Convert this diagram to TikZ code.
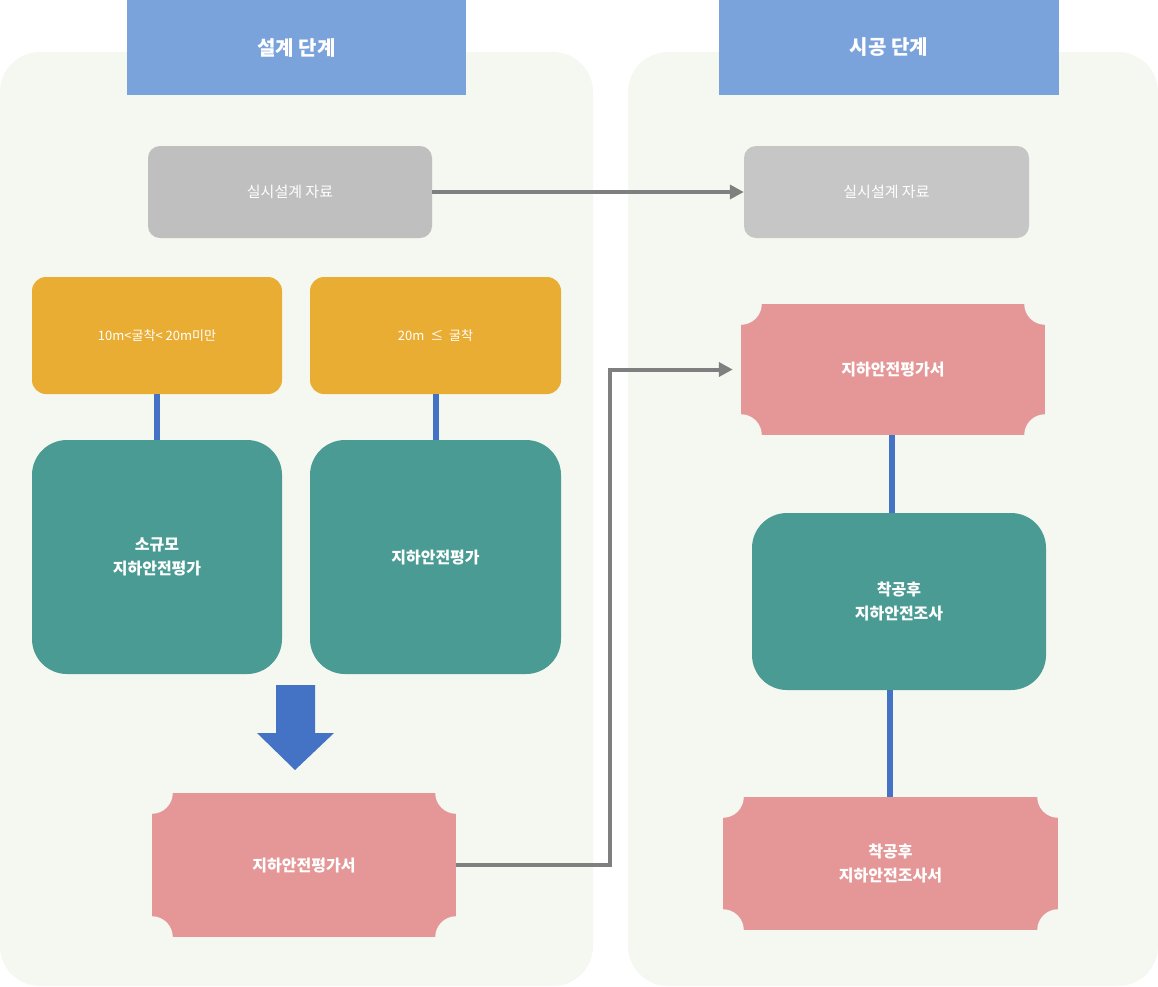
\documentclass[tikz,border=0pt]{standalone}
\usepackage{fontspec}
\setmainfont{Noto Sans CJK KR}
\usetikzlibrary{arrows.meta,positioning,calc}
\definecolor{panelgreen}{HTML}{F4F8F0}
\definecolor{headblue}{HTML}{7BA3DB}
\definecolor{grayfill}{HTML}{BFBFBF}
\definecolor{orangefill}{HTML}{EAAD33}
\definecolor{tealfill}{HTML}{4A9B93}
\definecolor{pinkfill}{HTML}{E49796}
\definecolor{linkblue}{HTML}{4472C4}
\definecolor{linkgray}{HTML}{7F7F7F}

\begin{document}
\begin{tikzpicture}[
    x=1pt, y=-1pt,
    panel/.style={fill=panelgreen, rounded corners=40pt},
    head/.style={rectangle, fill=headblue, text=white, minimum height=95pt, font=\fontsize{20}{24}\selectfont\bfseries},
    data/.style={rectangle, fill=grayfill, rounded corners=12pt, text=white, minimum width=284pt, minimum height=92pt, font=\fontsize{15}{18}\selectfont},
    depth/.style={rectangle, fill=orangefill, rounded corners=14pt, text=white, minimum width=250pt, minimum height=117pt, font=\fontsize{13}{16}\selectfont},
    study/.style={rectangle, fill=tealfill, rounded corners=35pt, text=white, align=center, minimum width=250pt, minimum height=234pt, font=\fontsize{16}{24}\selectfont\bfseries},
    report/.style={rectangle, fill=pinkfill, text=white, align=center, font=\fontsize{16}{24}\selectfont\bfseries},
    link/.style={linkblue, line width=6pt},
    flow/.style={linkgray, line width=4pt, -{Triangle[length=14pt,width=14pt]}}
]
    \useasboundingbox (0,0) rectangle (1158,986);

    % Panels
    \fill[panel] (0,52) rectangle (593,986);
    \fill[panel] (628,52) rectangle (1158,986);

    % Headers
    \node[head, minimum width=339pt] (designhead) at (296.5,47.5) {설계 단계};
    \node[head, minimum width=340pt] (buildhead) at (889,47.5) {시공 단계};

    % Design documents
    \node[data] (dataL) at (290,192) {실시설계 자료};
    \node[data, fill=gray!45!white, minimum width=285pt] (dataR) at (886.5,192) {실시설계 자료};

    % Depth conditions
    \node[depth] (small) at (157,335.5) {10m<굴착< 20m미만};
    \node[depth, minimum width=251pt] (large) at (435.5,335.5) {20m \ ≤ \ 굴착};

    % Assessments
    \node[study] (smallstudy) at (157,557) {소규모\\지하안전평가};
    \node[study, minimum width=251pt] (largestudy) at (435.5,557) {지하안전평가};

    % Reports
    \node[report, minimum width=304pt, minimum height=144pt] (reportL) at (304,865) {지하안전평가서};
    \node[report, minimum width=304pt, minimum height=131pt] (reportR) at (893,369.5) {지하안전평가서};
    \node[study, minimum width=294pt, minimum height=177pt] (survey) at (899,601.5) {착공후\\지하안전조사};
    \node[report, minimum width=335pt, minimum height=133pt] (surveyrep) at (890.5,863.5) {착공후\\지하안전조사서};

    % Ticket notches
    \foreach \t in {reportL, reportR, surveyrep}
        \foreach \c in {north west, north east, south west, south east}
            \fill[panelgreen] (\t.\c) circle (21pt);

    % Down arrow
    \fill[linkblue] (276,685) -- (315,685) -- (315,733) -- (334,733) -- (295,770) -- (257,733) -- (276,733) -- cycle;

    % Connectors
    \draw[link] (small) -- (smallstudy);
    \draw[link] (large) -- (largestudy);
    \draw[link] (reportR.south -| survey.north) ++(-7,0) -- ($(survey.north)+(-7,0)$);
    \draw[link] ($(survey.south)+(-9,0)$) -- ($(surveyrep.north)+(-0.5,0)$);
    \draw[flow] (dataL) -- (dataR);
    \draw[flow, shorten >=8pt] (reportL.east) -- (610,865) |- (reportR.west);
\end{tikzpicture}
\end{document}
